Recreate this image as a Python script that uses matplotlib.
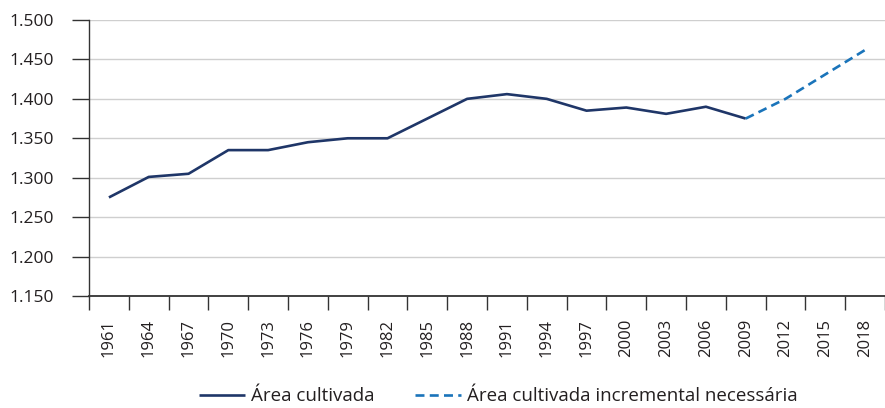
import numpy as np
import matplotlib.pyplot as plt
from matplotlib.ticker import FuncFormatter

plt.rcParams['font.family'] = ['Open Sans', 'DejaVu Sans']

years = [1961, 1964, 1967, 1970, 1973, 1976, 1979, 1982, 1985, 1988,
         1991, 1994, 1997, 2000, 2003, 2006, 2009, 2012, 2015, 2018]
area = [1275, 1301, 1305, 1335, 1335, 1345, 1350, 1350, 1375, 1400,
        1406, 1400, 1385, 1389, 1381, 1390, 1375]
incr_years = [2009, 2012, 2015, 2018]
incr = [1375, 1400, 1431, 1462]

txt = '#231f20'
fig = plt.figure(figsize=(8.85, 4.08), dpi=100)
ax = fig.add_axes([0.1006, 0.2745, 0.8994, 0.6765])

idx = {y: i for i, y in enumerate(years)}
x_main = [idx[y] for y in years[:len(area)]]
x_inc = [idx[y] for y in incr_years]

ax.plot(x_main, area, color='#1f3668', lw=1.9, solid_capstyle='butt',
        label='Área cultivada')
ax.plot(x_inc, incr, color='#1a74ba', lw=1.9, ls=(0, (3.4, 2.0)),
        label='Área cultivada incremental necessária')

ax.set_xlim(-0.5, len(years) - 0.5)
ax.set_ylim(1150, 1500)
ax.set_yticks(np.arange(1150, 1501, 50))
ax.yaxis.set_major_formatter(FuncFormatter(lambda v, p: f'{v/1000:.3f}'))
ax.grid(axis='y', color='#cfcfcf', lw=1.0)
ax.set_axisbelow(True)

# ticks between categories, labels at centres
ax.set_xticks(np.arange(-0.5, len(years), 1.0))
ax.set_xticklabels([])
ax.set_xticks(np.arange(len(years)), minor=True)
ax.set_xticklabels([str(y) for y in years], minor=True, rotation=90,
                   fontsize=12, color=txt)
ax.tick_params(axis='x', which='major', length=10, width=1, color='#333333')
ax.tick_params(axis='x', which='minor', length=0, pad=16.5)
ax.tick_params(axis='y', length=12.2, width=1, color='#333333', pad=13,
               labelsize=12.5, labelcolor=txt)

for s in ['top', 'right']:
    ax.spines[s].set_visible(False)
ax.spines['left'].set_color('#333333')
ax.spines['bottom'].set_color('#333333')
ax.spines['left'].set_linewidth(1.0)
ax.spines['bottom'].set_linewidth(1.3)

fig.legend(loc='lower center', bbox_to_anchor=(0.563, -0.035), ncol=2,
           frameon=False, fontsize=13.5, handlelength=2.45, handletextpad=0.3,
           columnspacing=2.2, labelcolor=txt)

fig.savefig('out.png', dpi=100)
